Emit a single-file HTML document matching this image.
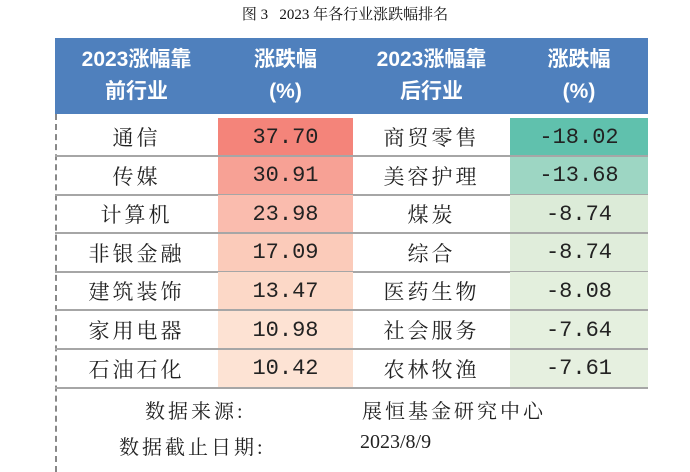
<!DOCTYPE html>
<html><head><meta charset="utf-8"><style>
body{margin:0;width:690px;height:466px;background:#fff;position:relative;overflow:hidden;font-family:"Liberation Serif","Noto Serif CJK SC",serif;}
.t{position:absolute;left:0;top:3px;width:690px;text-align:center;font-size:15px;color:#111;}
#tbl{position:absolute;left:55px;top:38px;width:593px;}
.hdr{position:absolute;top:0;height:76px;left:0;width:593px;background:#4f80bd;}
.hc{position:absolute;top:0;height:76px;display:flex;align-items:center;justify-content:center;text-align:center;color:#fff;font-weight:bold;font-size:21px;line-height:32px;font-family:"Liberation Sans","Noto Sans CJK SC",sans-serif;}
.c{position:absolute;height:38px;display:flex;align-items:center;justify-content:center;font-size:21px;color:#222;letter-spacing:3px;}
.n{font-family:"Liberation Mono","Noto Sans CJK SC",monospace;letter-spacing:0;font-size:22px;}
.ln{position:absolute;left:0;width:593px;height:2px;background:#a6a6a6;}
.dash{position:absolute;left:0;top:76px;height:358px;border-left:2px dashed #888;}
.f{position:absolute;font-size:20px;color:#222;letter-spacing:3px;}
</style></head><body>
<div class="t">图 3&nbsp;&nbsp;&nbsp;2023 年各行业涨跌幅排名</div>
<div id="tbl">
<div class="hdr"></div>
<div class="hc" style="left:0;width:163px">2023涨幅靠<br>前行业</div>
<div class="hc" style="left:163px;width:135px">涨跌幅<br>(%)</div>
<div class="hc" style="left:298px;width:157px">2023涨幅靠<br>后行业</div>
<div class="hc" style="left:455px;width:138px">涨跌幅<br>(%)</div>
<div class="dash"></div>
</div>
<script>
const topNames=["通信","传媒","计算机","非银金融","建筑装饰","家用电器","石油石化"];
const topVals=["37.70","30.91","23.98","17.09","13.47","10.98","10.42"];
const botNames=["商贸零售","美容护理","煤炭","综合","医药生物","社会服务","农林牧渔"];
const botVals=["-18.02","-13.68","-8.74","-8.74","-8.08","-7.64","-7.61"];
const redC=["#f4847a","#f7a195","#fabcae","#fbcbba","#fcd8c7","#fde2d3","#fde3d4"];
const grnC=["#60c1ad","#9dd6c3","#dcebd8","#e0eddb","#e3efdd","#e5f0df","#e6f0e0"];
const T=document.getElementById('tbl');
function mk(cls,l,w,top,txt,bg,name){const d=document.createElement('div');d.className=cls;d.style.left=l+'px';d.style.width=w+'px';d.style.top=top+'px';if(bg)d.style.background=bg;d.textContent=txt;


T.appendChild(d);}
for(let i=0;i<7;i++){const y=80+i*38.6;
mk('c',0,163,y,topNames[i],null,'top-industry-'+(i+1));
mk('c n',163,135,y,topVals[i],redC[i],'top-change-'+(i+1));
mk('c',298,157,y,botNames[i],null,'bottom-industry-'+(i+1));
mk('c n',455,138,y,botVals[i],grnC[i],'bottom-change-'+(i+1));
const l=document.createElement('div');l.className='ln';l.style.top=(y+37)+'px';


T.appendChild(l);}
</script>
<div class="f" style="left:145px;top:395px">数据来源:</div>
<div class="f" style="left:362px;top:395px">展恒基金研究中心</div>
<div class="f" style="left:119px;top:431px">数据截止日期:</div>
<div class="f" style="left:360px;top:431px;letter-spacing:0">2023/8/9</div>
</body></html>
